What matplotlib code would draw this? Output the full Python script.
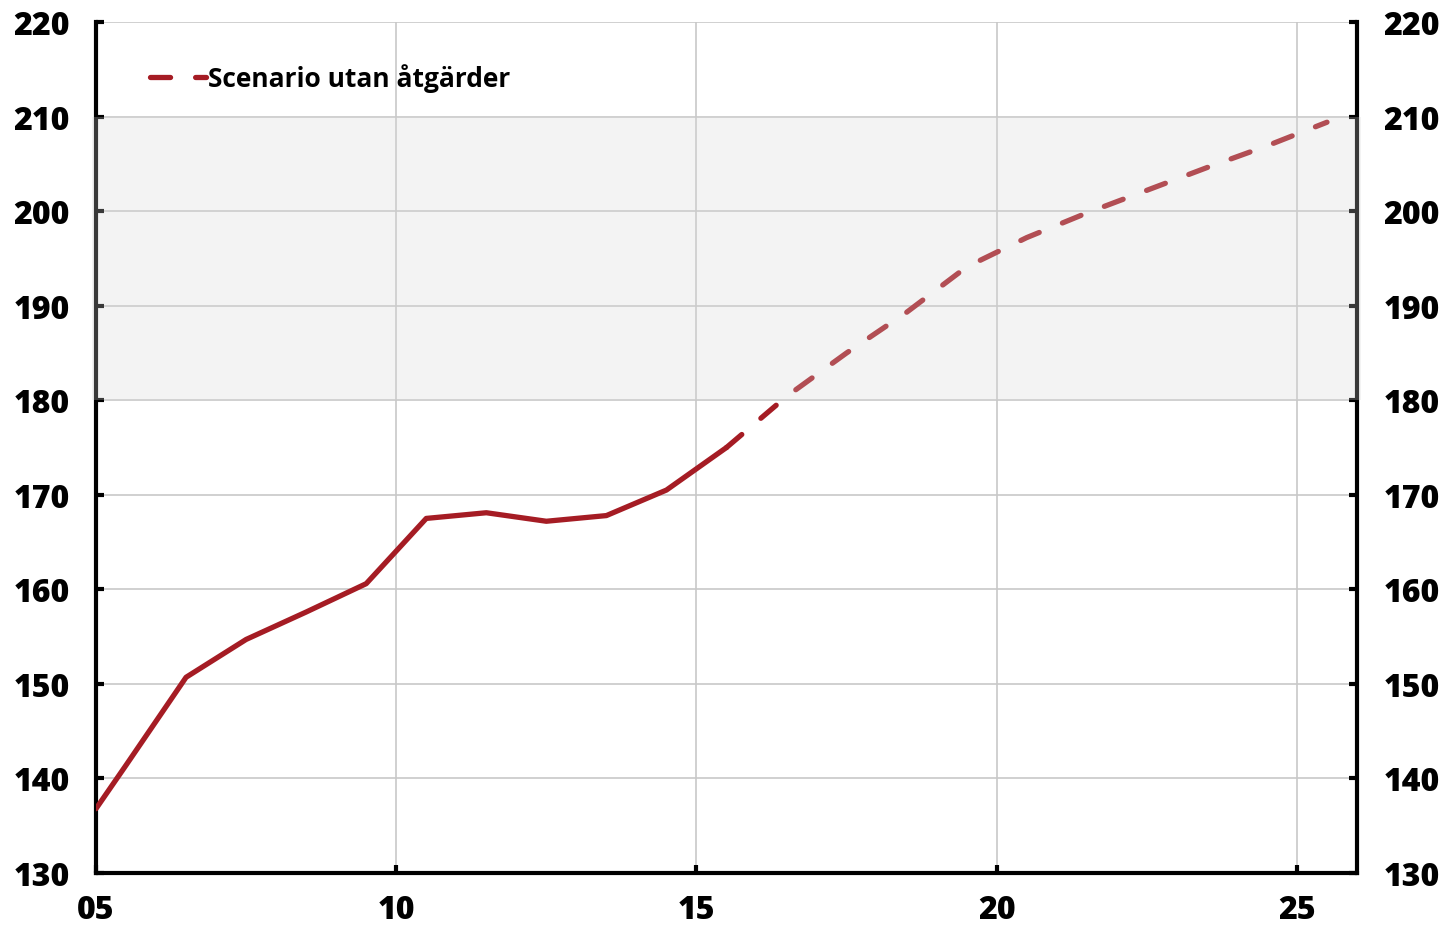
import matplotlib.pyplot as plt
from matplotlib.patches import Rectangle

# data: index values at mid-year, outcome and scenario without measures
years_hist = [2005.0, 2005.5, 2006.5, 2007.5, 2008.5, 2009.5, 2010.5, 2011.5, 2012.5, 2013.5, 2014.5, 2015.5]
vals_hist = [136.8, 141.4, 150.7, 154.7, 157.6, 160.6, 167.5, 168.1, 167.2, 167.8, 170.5, 175.0]

years_scen = [2015.5, 2016.5, 2017.5, 2018.5, 2019.5, 2020.5, 2021.5, 2022.5, 2023.5, 2024.5, 2025.5]
vals_scen = [175.0, 180.4, 185.0, 189.3, 194.1, 197.2, 199.8, 202.2, 204.6, 206.9, 209.4]

xticks = [2005, 2010, 2015, 2020, 2025]
xticklabels = ['05', '10', '15', '20', '25']
yticks = [130, 140, 150, 160, 170, 180, 190, 200, 210, 220]
band = (180, 210)
legend_label = 'Scenario utan åtgärder'

red = '#a51c24'
grid_col = '#c8c8c8'

plt.rcParams['font.family'] = ['Open Sans', 'DejaVu Sans']

fig = plt.figure(figsize=(14.52, 9.29), dpi=100)
ax = fig.add_axes([96/1452, 1-874/929, (1357-96)/1452, (874-23)/929])

ax.plot(years_hist, vals_hist, color=red, lw=3.8, solid_capstyle='round', zorder=4)
ax.plot(years_scen, vals_scen, color=red, lw=3.8, dashes=(3.8, 4.75),
        dash_capstyle='round', zorder=4, label=legend_label)

# grey shaded band on top (covers lines and spines a bit)
rect = Rectangle((-0.003, band[0]), 1.006, band[1]-band[0], transform=ax.get_yaxis_transform(),
                 facecolor='#d6d6d6', alpha=0.27, edgecolor='none', zorder=10, clip_on=False)
ax.add_patch(rect)

ax.set_xlim(2005, 2026)
ax.set_ylim(130, 220)
ax.set_xticks(xticks)
ax.set_xticklabels(xticklabels)
ax.set_yticks(yticks)

ax.grid(True, color=grid_col, lw=1.2, zorder=0)
ax.set_axisbelow(True)

for s in ['left', 'right', 'bottom']:
    ax.spines[s].set_linewidth(3)
    ax.spines[s].set_color('black')
ax.spines['top'].set_visible(False)

ax.tick_params(axis='y', which='both', direction='in', length=6, width=3,
               left=True, right=True, labelleft=True, labelright=True,
               labelsize=23, pad=19)
ax.tick_params(axis='x', direction='in', length=6, width=3, labelsize=23, pad=15)
# heavy labels on all sides
for lab in ax.get_xticklabels() + ax.get_yticklabels():
    lab.set_fontweight('heavy')
for t in ax.yaxis.get_major_ticks():
    t.label2.set_fontweight('heavy')

leg = ax.legend(loc='center left', bbox_to_anchor=(0.043, 0.935), frameon=False,
                prop={'size': 19, 'weight': 'bold'}, handlelength=2.1, handletextpad=0.1,
                borderpad=0, borderaxespad=0)

fig.savefig('out.png', dpi=100)
